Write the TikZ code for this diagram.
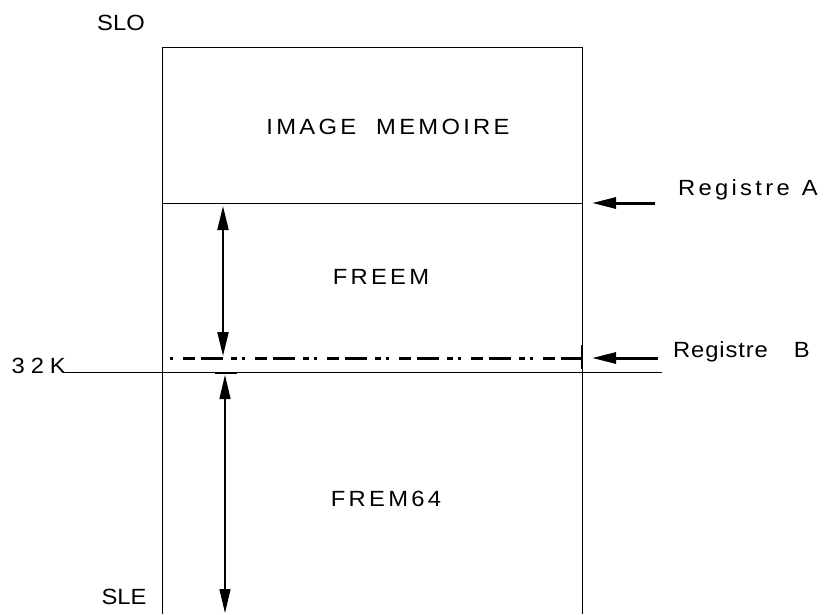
\documentclass[tikz,border=0pt]{standalone}
\usepackage{fontspec}
\setmainfont{Liberation Sans}
\newfontfamily\wide{Liberation Sans}[FakeStretch=1.08,LetterSpace=15]
\newfontfamily\tight{Liberation Sans}[FakeStretch=1.08,LetterSpace=4]
\newfontfamily\plainw{Liberation Sans}[FakeStretch=1.08]
\newfontfamily\loose{Liberation Sans}[FakeStretch=1.08,LetterSpace=27]
\usetikzlibrary{arrows.meta}
\begin{document}
\begin{tikzpicture}[x=1pt,y=-1pt,
  frame/.style={line width=1pt},
  lbl/.style={inner sep=0pt,font=\fontsize{22}{26}\selectfont\wide},
  tlbl/.style={lbl,font=\fontsize{22}{26}\selectfont\tight},
  plbl/.style={lbl,font=\fontsize{22}{26}\selectfont\plainw},
  bigtip/.style={-{Triangle[length=24pt,width=11pt]}},
  span/.style={{Triangle[length=24pt,width=11pt]}-{Triangle[length=24pt,width=11pt]}}
]
\useasboundingbox (0,0) rectangle (826,614);
% memory column
\coordinate (tl) at (162,47);
\coordinate (tr) at (582,47);
\coordinate (bl) at (162,614);
\coordinate (br) at (582,614);
\draw[frame] (bl) -- (tl) -- (tr) -- (br);
% register A boundary
\coordinate (al) at (162,203);
\coordinate (ar) at (582,203);
\draw[frame] (al) -- (ar);
% 32K boundary
\coordinate (kl) at (65,372);
\coordinate (kr) at (662,372);
\draw[frame] (kl) -- (kr);
% register B level (dash-dot)
\coordinate (bs) at (170,358);
\coordinate (be) at (582,358);
\draw[line width=3pt,dash pattern=on 3pt off 10pt on 12pt off 6pt on 22pt off 8pt on 6pt off 5pt] (bs) -- (be);
\coordinate (tickt) at (582,345);
\coordinate (tickb) at (582,369);
\draw[line width=2.5pt] (tickt) -- (tickb);
% FREEM extent
\coordinate (f1) at (223,206);
\coordinate (f2) at (223,356);
\draw[line width=2pt,span] (f1) -- (f2);
% FREM64 extent
\coordinate (g1) at (225,375);
\coordinate (g2) at (225,613);
\draw[line width=1.2pt,span] (g1) -- (g2);
\coordinate (c1) at (215,373);
\coordinate (c2) at (237,373);
\draw[line width=2pt] (c1) -- (c2);
% register pointers
\coordinate (pa) at (655,203);
\coordinate (qa) at (592,203);
\draw[line width=3pt,bigtip] (pa) -- (qa);
\coordinate (pb) at (658,358);
\coordinate (qb) at (592,358);
\draw[line width=3pt,bigtip] (pb) -- (qb);
% labels
\node[lbl] (img) at (388,127) {IMAGE\hspace{20pt}MEMOIRE};
\node[lbl] (freem) at (381,277) {FREEM};
\node[lbl] (frem) at (386,499) {FREM64};
\node[lbl,anchor=west] (ra) at (678,190) {Registre\hspace{12pt}A};
\node[tlbl,anchor=west] (rb) at (673,352) {Registre\hspace{26pt}B};
\node[plbl] (slo) at (121,23) {SLO};
\node[plbl] (sle) at (124,597) {SLE};
\node[lbl,anchor=east,font=\fontsize{22}{26}\selectfont\loose] (k) at (66,366) {32K};
\end{tikzpicture}
\end{document}
